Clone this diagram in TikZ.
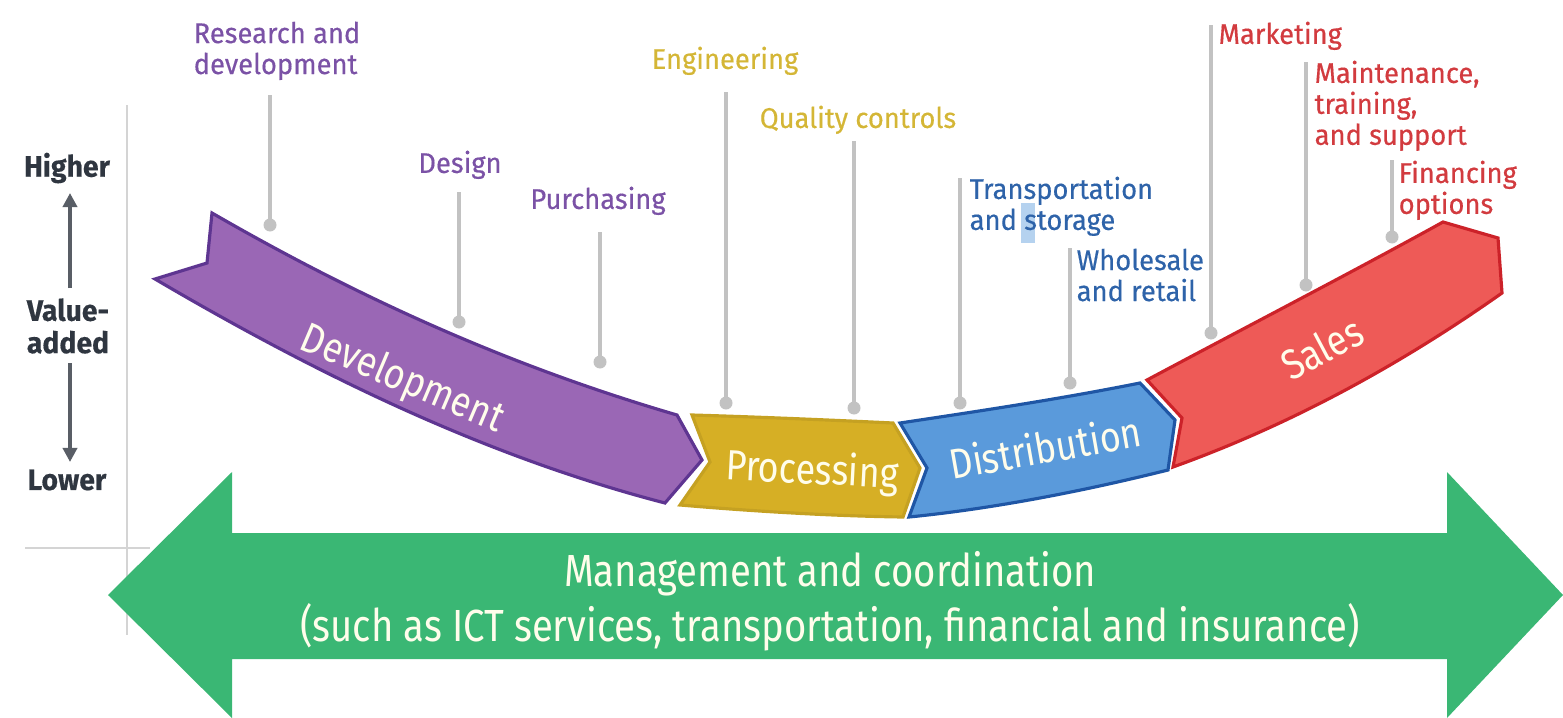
\documentclass[tikz,border=0pt]{standalone}
\usepackage{fontspec}
\setmainfont{Fira Sans}[FakeStretch=0.85]
\newfontfamily\lblfont{Fira Sans}[FakeStretch=0.96,FakeBold=0.4]
\usetikzlibrary{arrows.meta}
\definecolor{purT}{HTML}{7B52A6}
\definecolor{golT}{HTML}{D4B636}
\definecolor{bluT}{HTML}{2E63A9}
\definecolor{redT}{HTML}{D23B3F}
\definecolor{purF}{HTML}{9A67B5}
\definecolor{purD}{HTML}{5E3591}
\definecolor{golF}{HTML}{D6AF25}
\definecolor{bluF}{HTML}{5A9ADB}
\definecolor{bluD}{HTML}{1F56A5}
\definecolor{redF}{HTML}{EE5A57}
\definecolor{redD}{HTML}{CC2229}
\definecolor{grnF}{HTML}{3AB774}
\definecolor{leadC}{HTML}{C2C2C2}
\definecolor{axisT}{HTML}{2F3640}
\definecolor{cream}{HTML}{FFFDEB}
\begin{document}
\begin{tikzpicture}[x=0.01cm,y=-0.01cm,
  lbl/.style={inner sep=0pt,anchor=north west,align=left,font=\lblfont\fontsize{8.1}{8.8}\selectfont},
  lblc/.style={inner sep=0pt,anchor=north,align=center,font=\lblfont\fontsize{8.1}{8.8}\selectfont},
  leader/.style={draw=leadC,line width=1.1pt},
  leaddot/.style={fill=leadC},
  band/.style={line width=0.9pt,line join=miter},
  bandtxt/.style={text=cream,font=\fontsize{12}{14}\selectfont,inner sep=0pt},
  axistxt/.style={text=axisT,font=\lblfont\bfseries\fontsize{8.4}{9.2}\selectfont,inner sep=0pt,align=center},
  axisarr/.style={draw=axisT!80,line width=1pt,-{Triangle[length=4pt,width=4pt]}}
]
\useasboundingbox (0,0) rectangle (1563,718);

% axes
\draw[leadC!70,line width=0.8pt] (127,105) -- (127,635);
\draw[leadC!70,line width=0.8pt] (25,548) -- (150,548);

% green double arrow
\fill[grnF] (108,595) -- (232,472) -- (232,533) -- (1447,533) -- (1447,472) -- (1563,595)
  -- (1447,718) -- (1447,659) -- (232,659) -- (232,718) -- cycle;
\node[text=cream,font=\fontsize{12.8}{15.6}\selectfont,align=center,inner sep=0pt] (mgmt) at (830,601)
  {Management and coordination\\(such as ICT services, transportation, financial and insurance)};

% value axis
\node[axistxt] (hi) at (67,168) {Higher};
\node[axistxt] (va) at (68,326) {Value-\\added};
\node[axistxt] (lo) at (67,480) {Lower};
\draw[axisarr] (70,288) -- (70,193);
\draw[axisarr] (70,363) -- (70,462);

% Development band
\draw[band,fill=purF,draw=purD] (212,213) .. controls (380,310) and (530,372) .. (677,415)
  -- (702,460) -- (665,503) .. controls (480,455) and (310,370) .. (155,279) -- (207,263) -- cycle;
% Processing band
\draw[band,fill=golF,draw=golF!92!black] (692,415) .. controls (760,417) and (830,420) .. (893,423)
  -- (920,468) -- (903,517) .. controls (830,516) and (750,511) .. (680,505) -- (710,462) -- cycle;
% Distribution band
\draw[band,fill=bluF,draw=bluD] (900,423) .. controls (980,411) and (1060,399) .. (1140,383)
  -- (1175,420) -- (1168,470) .. controls (1080,492) and (990,509) .. (909,517) -- (927,468) -- cycle;
% Sales band
\draw[band,fill=redF,draw=redD] (1147,380) .. controls (1250,325) and (1360,268) .. (1443,222)
  -- (1498,238) -- (1502,293) .. controls (1400,365) and (1290,425) .. (1173,467) -- (1182,418) -- cycle;

\node[bandtxt,rotate=-23] (dev) at (402,380) {Development};
\node[bandtxt,rotate=-3] (proc) at (812,472) {Processing};
\node[bandtxt,rotate=10] (dist) at (1045,447) {Distribution};
\node[bandtxt,rotate=28] (sales) at (1322,348) {Sales};

% labels and leaders
\node[lbl,text=purT] (rd) at (193,21) {Research and\\development};
\coordinate (rdA) at (270,95); \coordinate (rdB) at (270,225);
\draw[leader] (rdA) -- (rdB); \fill[leaddot] (rdB) circle (6.5);

\node[lblc,text=purT] (des) at (460,150) {Design};
\coordinate (desA) at (459,192); \coordinate (desB) at (459,322);
\draw[leader] (desA) -- (desB); \fill[leaddot] (desB) circle (6.5);

\node[lblc,text=purT] (pur) at (598,186) {Purchasing};
\coordinate (purA) at (600,232); \coordinate (purB) at (600,362);
\draw[leader] (purA) -- (purB); \fill[leaddot] (purB) circle (6.5);

\node[lblc,text=golT] (eng) at (725,46) {Engineering};
\coordinate (engA) at (726,92); \coordinate (engB) at (726,403);
\draw[leader] (engA) -- (engB); \fill[leaddot] (engB) circle (6.5);

\node[lblc,text=golT] (qc) at (858,105) {Quality controls};
\coordinate (qcA) at (854,141); \coordinate (qcB) at (854,408);
\draw[leader] (qcA) -- (qcB); \fill[leaddot] (qcB) circle (6.5);

\fill[bluF!45] (1021,203) rectangle (1035,243);
\node[lbl,text=bluT] (ts) at (969,176) {Transportation\\and storage};
\coordinate (tsA) at (960,178); \coordinate (tsB) at (960,403);
\draw[leader] (tsA) -- (tsB); \fill[leaddot] (tsB) circle (6.5);

\node[lbl,text=bluT] (wr) at (1076,248) {Wholesale\\and retail};
\coordinate (wrA) at (1070,248); \coordinate (wrB) at (1070,383);
\draw[leader] (wrA) -- (wrB); \fill[leaddot] (wrB) circle (6.5);

\node[lbl,text=redT] (mkt) at (1218,21) {Marketing};
\coordinate (mktA) at (1211,25); \coordinate (mktB) at (1211,333);
\draw[leader] (mktA) -- (mktB); \fill[leaddot] (mktB) circle (6.5);

\node[lbl,text=redT] (mts) at (1314,60) {Maintenance,\\training,\\and support};
\coordinate (mtsA) at (1306,62); \coordinate (mtsB) at (1306,285);
\draw[leader] (mtsA) -- (mtsB); \fill[leaddot] (mtsB) circle (6.5);

\node[lbl,text=redT] (fin) at (1398,160) {Financing\\options};
\coordinate (finA) at (1392,160); \coordinate (finB) at (1392,237);
\draw[leader] (finA) -- (finB); \fill[leaddot] (finB) circle (6.5);
\end{tikzpicture}
\end{document}
